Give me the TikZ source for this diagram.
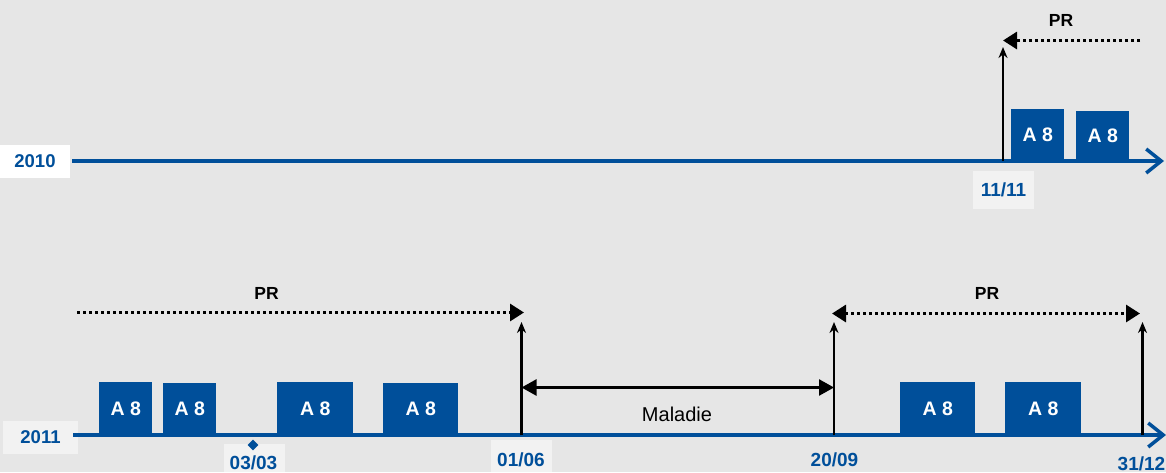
\documentclass[tikz,border=0pt]{standalone}
\usepackage{fontspec}
\setmainfont{Liberation Sans}
\usetikzlibrary{arrows.meta}
\definecolor{bgc}{HTML}{E6E6E6}
\definecolor{axisblue}{HTML}{004F9A}
\definecolor{lblbg}{HTML}{F2F2F2}
\begin{document}
\begin{tikzpicture}[x=1pt,y=-1pt,
  axisline/.style={draw=axisblue, line width=3.5pt, -{Straight Barb[length=15pt,width=24pt,line width=3.5pt]}},
  yearlbl/.style={text=axisblue, font=\fontsize{18.5}{18.5}\selectfont\bfseries, minimum height=33pt, inner sep=0pt},
  datelbl/.style={text=axisblue, font=\fontsize{19}{19}\selectfont\bfseries, inner sep=0pt},
  abox/.style={fill=axisblue, text=white, font=\fontsize{19.5}{19.5}\selectfont\bfseries, minimum height=52pt, anchor=south west, inner sep=0pt},
  vmark/.style={draw=black, line width=2.5pt, -{Stealth[length=11pt,width=9pt]}},
  prline/.style={draw=black, line width=3pt, dash pattern=on 3pt off 3pt, -{Triangle[length=14pt,width=17pt]}},
  prlbl/.style={font=\fontsize{17.5}{17.5}\selectfont\bfseries, inner sep=0pt},
  mal/.style={draw=black, line width=2.5pt, {Triangle[length=15pt,width=16pt]}-{Triangle[length=15pt,width=16pt]}}
]
\fill[bgc] (0,0) rectangle (1166,472);
\useasboundingbox (0,0) rectangle (1166,472);

% ---------- 2010 ----------
\node[yearlbl, fill=white, minimum width=70pt] (y2010) at (35,161) {2010};
\coordinate (a0s) at (72,161);
\coordinate (a0e) at (1164,161);
\draw[axisline] (a0s) -- (a0e);

\node[abox, minimum width=53pt] (b01) at (1011,161) {A 8};
\node[abox, minimum width=53pt, minimum height=50pt] (b02) at (1076,161) {A 8};

\fill[lblbg] (973,171) rectangle (1034,209);
\node[datelbl] (d1111) at (1003.5,190) {11/11};

\coordinate (v0b) at (1003,161);
\coordinate (v0t) at (1003,47);
\draw[vmark] (v0b) -- (v0t);
\coordinate (p0s) at (1140,40.5);
\coordinate (p0e) at (1003,40.5);
\draw[prline] (p0s) -- (p0e);
\node[prlbl] (pr0) at (1061,20.5) {PR};

% ---------- 2011 ----------
\node[yearlbl, fill=lblbg, minimum width=75pt] (y2011) at (40.5,437) {2011};
\coordinate (a1s) at (73,435);
\coordinate (a1e) at (1166,435);
\draw[axisline] (a1s) -- (a1e);

\node[abox, minimum width=53pt, minimum height=53pt] (b11) at (99,435) {A 8};
\node[abox, minimum width=53pt] (b12) at (163,435) {A 8};
\node[abox, minimum width=76pt, minimum height=53pt] (b13) at (277,435) {A 8};
\node[abox, minimum width=75pt] (b14) at (383,435) {A 8};
\node[abox, minimum width=75pt, minimum height=53pt] (b15) at (900,435) {A 8};
\node[abox, minimum width=76pt, minimum height=53pt] (b16) at (1005,435) {A 8};

% 03/03
\fill[lblbg] (224,444) rectangle (285,472);
\node[fill=axisblue, minimum size=7.5pt, inner sep=0pt, rotate=45] (dm) at (253,445) {};
\node[datelbl] (d0303) at (253.5,463) {03/03};

% 01/06
\fill[lblbg] (491,439.5) rectangle (552,472);
\node[datelbl] (d0106) at (521,460) {01/06};
\coordinate (v1b) at (521.5,435);
\coordinate (v1t) at (521.5,322);
\draw[vmark] (v1b) -- (v1t);

% 20/09
\node[datelbl] (d2009) at (834.5,460) {20/09};
\coordinate (v2b) at (834,435);
\coordinate (v2t) at (834,322);
\draw[vmark] (v2b) -- (v2t);

% 31/12
\node[datelbl] (d3112) at (1141.5,463.5) {31/12};
\coordinate (v3b) at (1142.5,435);
\coordinate (v3t) at (1142.5,322);
\draw[vmark] (v3b) -- (v3t);

% PR arrows
\coordinate (p1s) at (77,312.5);
\coordinate (p1e) at (524,312.5);
\draw[prline] (p1s) -- (p1e);
\node[prlbl] (pr1) at (266.5,293.5) {PR};

\coordinate (p2a) at (832,313.5);
\coordinate (p2b) at (1140,313.5);
\draw[prline, {Triangle[length=14pt,width=17pt]}-{Triangle[length=14pt,width=17pt]}] (p2a) -- (p2b);
\node[prlbl] (pr2) at (987,293.5) {PR};

% Maladie
\draw[mal] (v1b |- 0,387.5) -- (v2b |- 0,387.5);
\node[font=\fontsize{20}{20}\selectfont, inner sep=0pt] (mal) at (677,414) {Maladie};
\end{tikzpicture}
\end{document}
